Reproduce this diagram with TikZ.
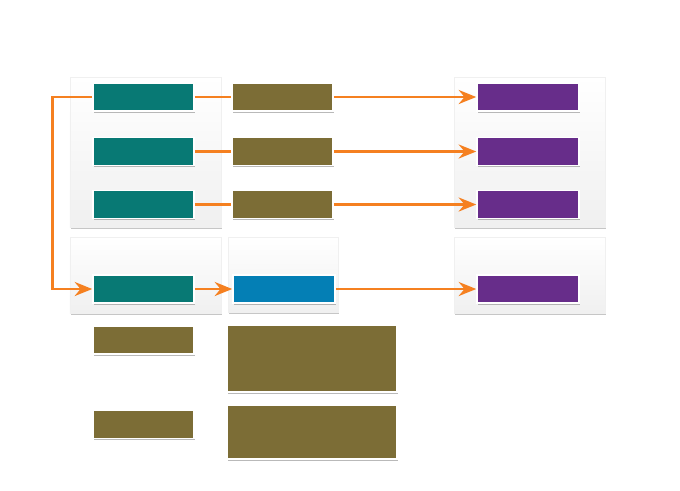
\documentclass[tikz,border=0pt]{standalone}
\usepackage{tikz}
\usetikzlibrary{shadows,arrows.meta}

\definecolor{flowor}{RGB}{245,128,32}
\definecolor{tealc}{RGB}{8,121,116}
\definecolor{olivec}{RGB}{124,109,54}
\definecolor{purplec}{RGB}{103,45,138}
\definecolor{bluec}{RGB}{4,127,181}

\tikzset{
  panel/.style={draw=gray!12, line width=0.3pt, top color=white, bottom color=gray!12,
    inner sep=0pt, drop shadow={shadow xshift=0.8pt, shadow yshift=-2pt, opacity=0.45}},
  card/.style={draw=white, line width=1.3pt, inner sep=0pt,
    minimum width=3.03cm, minimum height=0.84cm,
    drop shadow={shadow xshift=1pt, shadow yshift=-1.6pt, opacity=0.55}},
  tealbox/.style={card, fill=tealc},
  olivebox/.style={card, fill=olivec},
  purplebox/.style={card, fill=purplec, minimum width=3.06cm},
  bluebox/.style={card, fill=bluec, minimum width=3.06cm},
  flow/.style={draw=flowor, line width=2.2pt},
  flowarrow/.style={flow, -{Stealth[length=15pt, width=12pt, inset=5pt]}},
}

\begin{document}
\begin{tikzpicture}[x=0.03cm, y=-0.03cm]
        \useasboundingbox (0,0) rectangle (680,490);

        % panels
        \node[panel, minimum width=4.53cm, minimum height=4.5cm] (pA) at (145.5,152) {};
        \node[panel, minimum width=4.53cm, minimum height=4.5cm] (pC) at (529.5,152) {};
        \node[panel, minimum width=4.53cm, minimum height=2.28cm] (pD) at (145.5,275) {};
        \node[panel, minimum width=3.3cm, minimum height=2.25cm] (pE) at (283,274.5) {};
        \node[panel, minimum width=4.53cm, minimum height=2.28cm] (pF) at (529.5,275) {};

        % first column
        \node[tealbox] (t1) at (143.5, 97.0) {};
        \node[tealbox] (t2) at (143.5,151.5) {};
        \node[tealbox] (t3) at (143.5,204.5) {};
        \node[tealbox] (t4) at (143.5,289.0) {};

        % second column
        \node[olivebox] (o1) at (282.5, 97.0) {};
        \node[olivebox] (o2) at (282.5,151.5) {};
        \node[olivebox] (o3) at (282.5,204.5) {};
        \node[bluebox]  (b4) at (284.0,289.0) {};

        % third column
        \node[purplebox] (u1) at (528.0, 97.0) {};
        \node[purplebox] (u2) at (528.0,151.5) {};
        \node[purplebox] (u3) at (528.0,204.5) {};
        \node[purplebox] (u4) at (528.0,289.0) {};

        % lower blocks
        \node[olivebox] (s1) at (143.5,340.0) {};
        \node[olivebox] (s2) at (143.5,424.5) {};
        \node[olivebox, minimum width=5.1cm, minimum height=2.01cm] (w1) at (312.0,358.5) {};
        \node[olivebox, minimum width=5.1cm, minimum height=1.62cm] (w2) at (312.0,432.0) {};

        % connectors
        \draw[flow] (t1) -- (o1);
        \draw[flow] (t2) -- (o2);
        \draw[flow] (t3) -- (o3);
        \draw[flowarrow] (o1) -- (u1);
        \draw[flowarrow] (o2) -- (u2);
        \draw[flowarrow] (o3) -- (u3);
        \draw[flowarrow] (t4) -- (b4);
        \draw[flowarrow] (b4) -- (u4);
        \draw[flowarrow] (t1.west) -- ++(-40,0) |- (t4.west);
\end{tikzpicture}
\end{document}
